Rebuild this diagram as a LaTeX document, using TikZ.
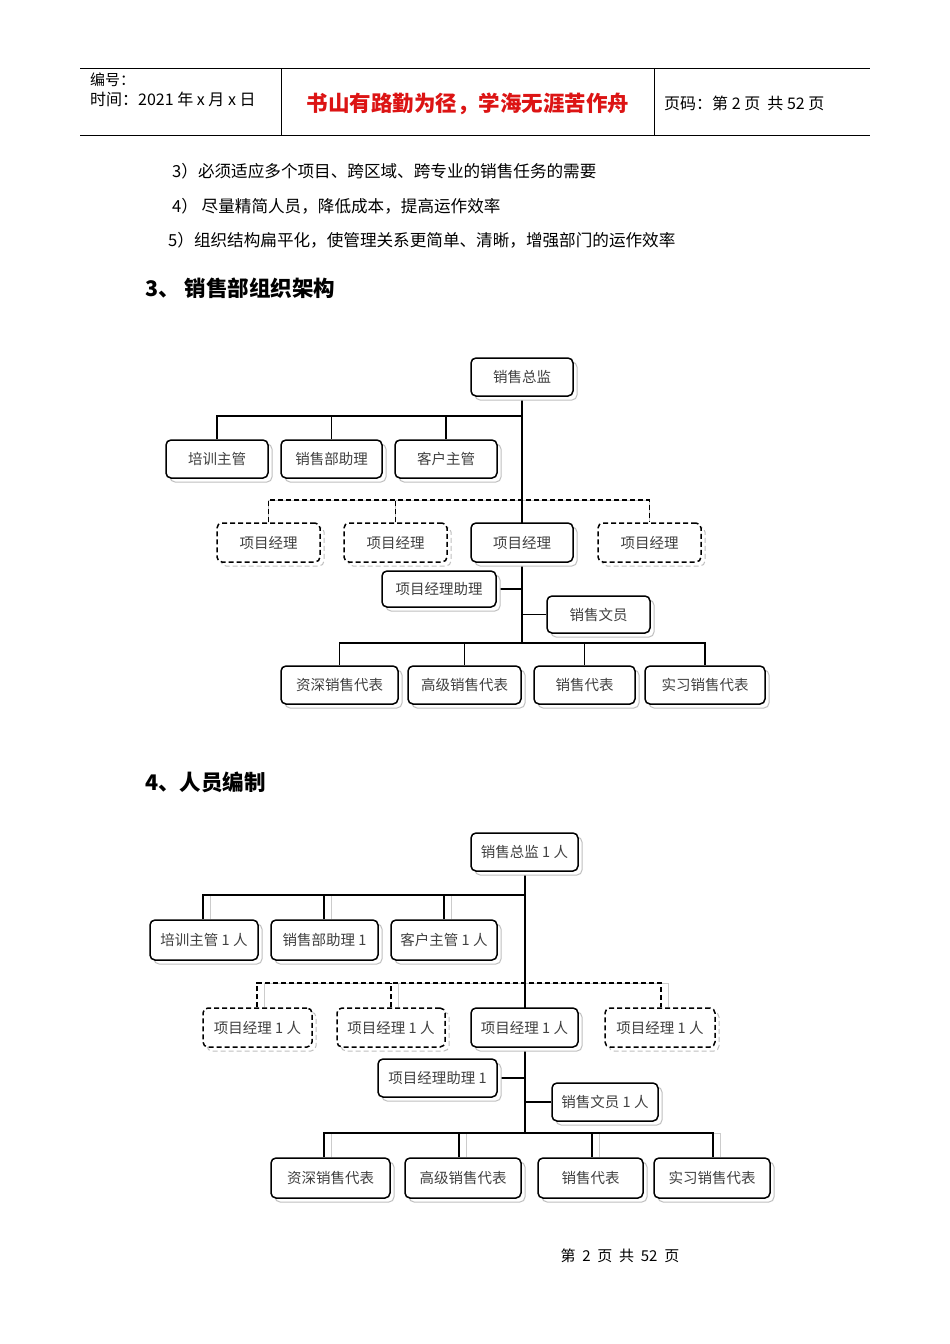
\documentclass[tikz,border=0pt]{standalone}
\usepackage{fontspec}
\setmainfont{Noto Sans CJK SC}
\usetikzlibrary{shadows,backgrounds}
\tikzset{
  org/.style={draw=black,line width=1.5pt,rounded corners=5pt,fill=white,text=black!75,
    font=\fontsize{14.5}{15}\selectfont,inner sep=0pt,
    copy shadow={shadow xshift=4pt,shadow yshift=-4pt,draw=black!25,fill=white,line width=1pt}},
  dorg/.style={org,dashed,dash pattern=on 5pt off 3pt},
  conn/.style={line width=1.5pt,draw=black},
  dconn/.style={conn,dash pattern=on 5pt off 3pt},
  sh/.style={line width=1pt,draw=black!20},
  txt/.style={anchor=west,inner sep=0pt,font=\fontsize{16}{18}\selectfont},
  body/.style={anchor=west,inner sep=0pt,font=\fontsize{16.6}{18}\selectfont},
  head/.style={anchor=west,inner sep=0pt,font=\fontsize{21.5}{24}\selectfont\bfseries}
}
\newcommand\bx[7][org]{\node[#1,minimum width={(#4-#3)*1pt},minimum height={(#6-#5)*1pt}] (#2) at ({(#3+#4)/2},{(#5+#6)/2}) {#7};}
\begin{document}
\begin{tikzpicture}[x=1pt,y=-1pt]
\useasboundingbox (0,0) rectangle (950,1344);
\begin{scope}[on background layer]
\fill[white] (0,0) rectangle (950,1344);
\end{scope}
% header
\draw[line width=0.8pt] (80,68) -- (870,68) (80,135) -- (870,135) (281,68) -- (281,135) (654,68) -- (654,135);
\node[txt,font=\fontsize{15}{18}\selectfont] at (90,80) {编号：};
\node[txt] at (90,99) {时间：2021 年 x 月 x 日};
\node[font=\fontsize{21.5}{24}\selectfont\bfseries,text={rgb,255:red,220;green,20;blue,20}] at (468,104) {书山有路勤为径，学海无涯苦作舟};
\node[txt] at (664,103) {页码：第 2 页 \ 共 52 页};
\node[body] at (172,171) {3）必须适应多个项目、跨区域、跨专业的销售任务的需要};
\node[body] at (172,206) {4） 尽量精简人员，降低成本，提高运作效率};
\node[body] at (168,240) {5）组织结构扁平化，使管理关系更简单、清晰，增强部门的运作效率};
\node[head] at (145,288) {3、 销售部组织架构};
\node[head] at (145,782) {4、人员编制};
\node[font=\fontsize{15}{17}\selectfont] at (620,1256) {第 \ 2 \ 页 \ 共 \ 52 \ 页};

% ===== chart 1 =====
\bx{a0}{471}{573}{358}{396}{销售总监}
\bx{a1}{166}{268}{440}{478}{培训主管}
\bx{a2}{281}{382}{440}{478}{销售部助理}
\bx{a3}{395}{497}{440}{478}{客户主管}
\bx[dorg]{p1}{217}{320}{523}{562}{项目经理}
\bx[dorg]{p2}{344}{447}{523}{562}{项目经理}
\bx{p3}{471}{573}{523}{562}{项目经理}
\bx[dorg]{p4}{598}{701}{523}{562}{项目经理}
\bx{pa}{382}{496}{571}{607}{项目经理助理}
\bx{sc}{547}{650}{596}{633}{销售文员}
\bx{r1}{281}{398}{666}{704}{资深销售代表}
\bx{r2}{408}{521}{666}{704}{高级销售代表}
\bx{r3}{534}{635}{666}{704}{销售代表}
\bx{r4}{645}{765}{666}{704}{实习销售代表}
\coordinate (b1) at (0,416);
\coordinate (b2) at (0,500);
\coordinate (b3) at (0,643);
\begin{scope}[on background layer]
\foreach \ox/\oy/\s/\d in {7/6/sh/sh,0/0/conn/dconn}{
  \begin{scope}[shift={(\ox,\oy)}]
  \draw[\s] (a0.south) -- (a0.south|-b3);
  \draw[\s] (a1.north) -- (a1.north|-b1) -- (a0.south|-b1);
  \draw[\s] (a2.north) -- (a2.north|-b1);
  \draw[\s] (a3.north) -- (a3.north|-b1);
  \draw[\d] (p1.north) -- (p1.north|-b2) -- (p4.north|-b2) -- (p4.north);
  \draw[\d] (p2.north) -- (p2.north|-b2);
  \draw[\s] (pa.east) -- (a0.south|-pa.east);
  \draw[\s] (sc.west) -- (a0.south|-sc.west);
  \draw[\s] (r1.north) -- (r1.north|-b3) -- (r4.north|-b3) -- (r4.north);
  \draw[\s] (r2.north) -- (r2.north|-b3);
  \draw[\s] (r3.north) -- (r3.north|-b3);
  \end{scope}}
\end{scope}

% ===== chart 2 =====
\bx{c0}{471}{578}{833}{871}{销售总监 1 人}
\bx{c1}{150}{258}{920}{960}{培训主管 1 人}
\bx{c2}{271}{378}{920}{960}{销售部助理 1}
\bx{c3}{391}{497}{920}{960}{客户主管 1 人}
\bx[dorg]{q1}{203}{312}{1008}{1047}{项目经理 1 人}
\bx[dorg]{q2}{337}{445}{1008}{1047}{项目经理 1 人}
\bx{q3}{471}{578}{1008}{1047}{项目经理 1 人}
\bx[dorg]{q4}{605}{715}{1008}{1047}{项目经理 1 人}
\bx{qa}{378}{497}{1059}{1097}{项目经理助理 1}
\bx{qc}{552}{658}{1083}{1121}{销售文员 1 人}
\bx{s1}{271}{390}{1158}{1198}{资深销售代表}
\bx{s2}{405}{521}{1158}{1198}{高级销售代表}
\bx{s3}{538}{643}{1158}{1198}{销售代表}
\bx{s4}{654}{770}{1158}{1198}{实习销售代表}
\coordinate (e1) at (0,895);
\coordinate (e2) at (0,983);
\coordinate (e3) at (0,1133);
\coordinate (tr) at (525,871);
\begin{scope}[on background layer]
\foreach \ox/\oy/\s/\d in {7/6/sh/sh,0/0/conn/dconn}{
  \begin{scope}[shift={(\ox,\oy)}]
  \draw[\s] (tr) -- (tr|-e3);
  \draw[\s] (c1.north-|203,0) -- (203,0|-e1) -- (tr|-e1);
  \draw[\s] (c2.north-|324,0) -- (324,0|-e1);
  \draw[\s] (c3.north-|444,0) -- (444,0|-e1);
  \draw[\d] (q1.north-|257,0) -- (257,0|-e2) -- (661,0|-e2) -- (q4.north-|661,0);
  \draw[\d] (q2.north-|391,0) -- (391,0|-e2);
  \draw[\s] (qa.east) -- (tr|-qa.east);
  \draw[\s] (qc.west) -- (tr|-qc.west);
  \draw[\s] (s1.north-|324,0) -- (324,0|-e3) -- (713,0|-e3) -- (s4.north-|713,0);
  \draw[\s] (s2.north-|459,0) -- (459,0|-e3);
  \draw[\s] (s3.north-|592,0) -- (592,0|-e3);
  \end{scope}}
\end{scope}
\end{tikzpicture}
\end{document}
